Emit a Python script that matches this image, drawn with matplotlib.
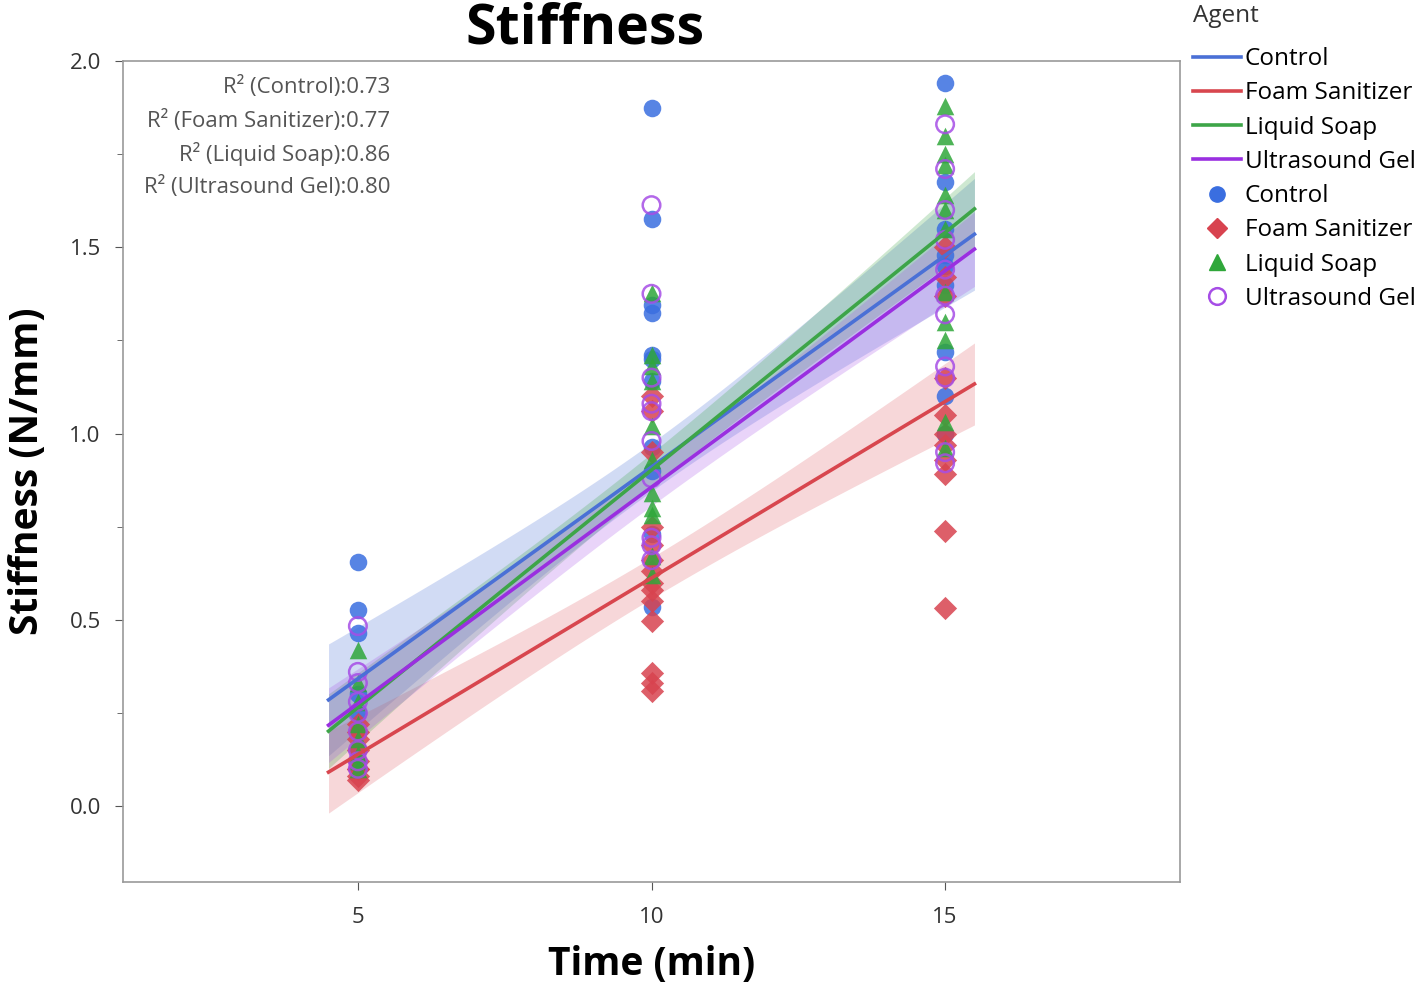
import numpy as np
import matplotlib
matplotlib.use("Agg")
import matplotlib.pyplot as plt
from matplotlib.lines import Line2D

plt.rcParams['font.family'] = ['Open Sans', 'DejaVu Sans']

agents = ["Control", "Foam Sanitizer", "Liquid Soap", "Ultrasound Gel"]
times = [5, 10, 15]

control_5 = [0.655, 0.526, 0.464, 0.30, 0.25, 0.20, 0.15, 0.12]
control_10 = [1.874, 1.576, 1.345, 1.323, 1.21, 1.20, 1.14, 0.964, 0.90, 0.73, 0.534]
control_15 = [1.94, 1.675, 1.55, 1.48, 1.45, 1.40, 1.22, 1.10, 1.00]

foam_5 = [0.22, 0.20, 0.18, 0.15, 0.12, 0.10, 0.10, 0.08, 0.07]
foam_10 = [1.10, 1.06, 0.95, 0.75, 0.70, 0.66, 0.63, 0.60, 0.58, 0.55, 0.497, 0.357, 0.33, 0.31]
foam_15 = [1.50, 1.42, 1.37, 1.15, 1.05, 1.00, 0.97, 0.93, 0.89, 0.738, 0.532]

soap_5 = [0.42, 0.33, 0.28, 0.22, 0.18, 0.14, 0.12, 0.10]
soap_10 = [1.377, 1.21, 1.18, 1.14, 1.02, 0.93, 0.84, 0.80, 0.78, 0.67, 0.62]
soap_15 = [1.88, 1.80, 1.75, 1.72, 1.64, 1.60, 1.55, 1.38, 1.30, 1.25, 1.03, 0.96]

gel_5 = [0.483, 0.36, 0.33, 0.28, 0.25, 0.20, 0.15, 0.12, 0.10]
gel_10 = [1.613, 1.375, 1.15, 1.08, 1.06, 0.98, 0.88, 0.72, 0.70, 0.66]
gel_15 = [1.83, 1.71, 1.60, 1.52, 1.44, 1.37, 1.32, 1.18, 1.15, 0.95, 0.92]

# fitted lines: value at x=4.5 and at x=15.5
fit_start = [0.285, 0.091, 0.201, 0.217]
fit_end = [1.535, 1.133, 1.603, 1.495]
# confidence band half-width at centre (x=10) and at the ends
ci_center = [0.065, 0.055, 0.045, 0.050]
ci_edge = [0.150, 0.110, 0.100, 0.100]
r2_values = ["0.73", "0.77", "0.86", "0.80"]

point_data = [
    [control_5, control_10, control_15],
    [foam_5, foam_10, foam_15],
    [soap_5, soap_10, soap_15],
    [gel_5, gel_10, gel_15],
]

line_colors = ["#4a70d6", "#d8464e", "#3da548", "#9a2fe0"]
band_colors = ["#4a70d6", "#e06068", "#3da548", "#a855e8"]
pt_colors = ["#3a6ee0", "#d8434f", "#2fa73a", "#a64de6"]
markers = ["o", "D", "^", "o"]

fig = plt.figure(figsize=(14.18, 9.84), dpi=100)
ax = fig.add_axes([123/1418, 1-882/984, (1180-123)/1418, (882-61)/984])

xs = np.linspace(4.5, 15.5, 100)
for i in range(4):
    slope = (fit_end[i] - fit_start[i]) / 11.0
    yfit = fit_start[i] + slope * (xs - 4.5)
    b = np.sqrt(ci_edge[i]**2 - ci_center[i]**2) / 5.5
    hw = np.sqrt(ci_center[i]**2 + (b * (xs - 10))**2)
    ax.fill_between(xs, yfit - hw, yfit + hw, color=band_colors[i], alpha=0.25, lw=0, zorder=1)

for i in range(4):
    for t, vals in zip(times, point_data[i]):
        xv = np.full(len(vals), t, dtype=float)
        if i == 3:
            ax.scatter(xv, vals, s=160, facecolors='none', edgecolors=pt_colors[i],
                       linewidths=1.8, zorder=3, alpha=0.85)
        else:
            ms = {0: 160, 1: 140, 2: 160}[i]
            ax.scatter(xv, vals, s=ms, marker=markers[i], color=pt_colors[i],
                       lw=0, zorder=3, alpha=0.85)

for i in range(4):
    slope = (fit_end[i] - fit_start[i]) / 11.0
    yfit = fit_start[i] + slope * (xs - 4.5)
    ax.plot(xs, yfit, color=line_colors[i], lw=2.6, zorder=4)

ax.set_xlim(1, 19)
ax.set_ylim(-0.204, 2.0)
ax.set_xticks([5, 10, 15])
ax.set_yticks([0.0, 0.5, 1.0, 1.5, 2.0])
ax.set_yticklabels(["0.0", "0.5", "1.0", "1.5", "2.0"])
ax.set_yticks([0.25, 0.75, 1.25, 1.75], minor=True)
ax.tick_params(axis='both', which='major', labelsize=16, colors='#555555',
               labelcolor='#333333', length=6, direction='out')
ax.tick_params(axis='x', which='major', pad=12)
ax.tick_params(axis='y', which='major', pad=10)
ax.tick_params(axis='y', which='minor', length=4, colors='#555555')
for s in ax.spines.values():
    s.set_color('#999999')
    s.set_linewidth(1.2)

fig.text(585/1418, 1 - 29/984, "Stiffness", fontsize=40, fontweight='bold',
         ha='center', va='center')
ax.set_xlabel("Time (min)", fontsize=28, fontweight='bold', labelpad=12)
ax.set_ylabel("Stiffness (N/mm)", fontsize=28, fontweight='bold', labelpad=16)

for k, (name, r2) in enumerate(zip(agents, r2_values)):
    ax.text((390 - 123) / (1180 - 123),
            1 - (87 + 33.5 * k - 61) / (882 - 61),
            "R\u00b2 (%s):%s" % (name, r2), transform=ax.transAxes,
            ha='right', va='center', fontsize=16, color='#555555')

handles = []
for i in range(4):
    handles.append(Line2D([0], [0], color=line_colors[i], lw=2.6))
for i in range(4):
    if i == 3:
        handles.append(Line2D([0], [0], marker='o', ls='none', markersize=12,
                              markerfacecolor='none', markeredgecolor=pt_colors[i], markeredgewidth=1.8))
    else:
        handles.append(Line2D([0], [0], marker=markers[i], ls='none',
                              markersize=11 if i != 1 else 10, color=pt_colors[i]))
labels = agents + agents
leg = fig.legend(handles, labels, loc='upper left', bbox_to_anchor=(1183/1418, 1.006),
                 frameon=False, fontsize=17.5, title="Agent", title_fontsize=17.5,
                 handlelength=2.0, handletextpad=0.15, labelspacing=0.42, borderaxespad=0)
leg._legend_box.align = "left"
leg._legend_box.sep = 14
leg.get_title().set_color('#333333')

fig.savefig("out.png", dpi=100)
